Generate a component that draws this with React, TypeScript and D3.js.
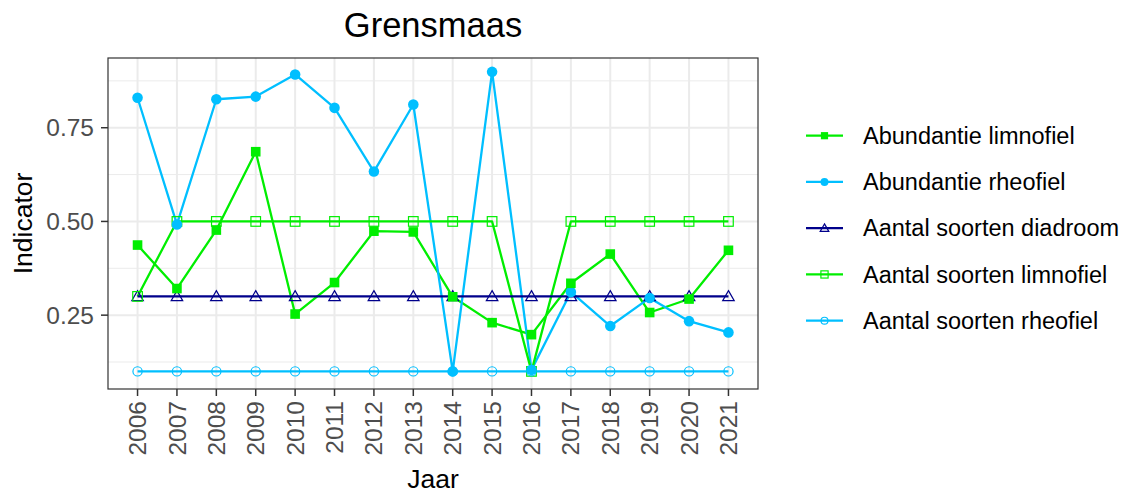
import React, {useRef, useEffect} from "react";
import * as d3 from "d3";

// Chart data
const years = [2006, 2007, 2008, 2009, 2010, 2011, 2012, 2013, 2014, 2015, 2016, 2017, 2018, 2019, 2020, 2021];

const abundantieLimnofiel = [0.437, 0.321, 0.477, 0.686, 0.253, 0.337, 0.474, 0.472, 0.299, 0.230, 0.198, 0.335, 0.413, 0.257, 0.293, 0.423];
const abundantieRheofiel = [0.830, 0.492, 0.826, 0.833, 0.892, 0.803, 0.633, 0.812, 0.100, 0.899, 0.104, 0.312, 0.221, 0.296, 0.234, 0.204];
const aantalDiadroom = [0.3, 0.3, 0.3, 0.3, 0.3, 0.3, 0.3, 0.3, 0.3, 0.3, 0.3, 0.3, 0.3, 0.3, 0.3, 0.3];
const aantalLimnofiel = [0.3, 0.5, 0.5, 0.5, 0.5, 0.5, 0.5, 0.5, 0.5, 0.5, 0.1, 0.5, 0.5, 0.5, 0.5, 0.5];
const aantalRheofiel = [0.1, 0.1, 0.1, 0.1, 0.1, 0.1, 0.1, 0.1, 0.1, 0.1, 0.1, 0.1, 0.1, 0.1, 0.1, 0.1];

const yTicks = [0.25, 0.5, 0.75];
const yMinor = [0.125, 0.375, 0.625, 0.875];

const series = [
  {name: "Abundantie limnofiel", values: abundantieLimnofiel, color: "#00EE00", shape: "square", filled: true},
  {name: "Abundantie rheofiel", values: abundantieRheofiel, color: "#00BFFF", shape: "circle", filled: true},
  {name: "Aantal soorten diadroom", values: aantalDiadroom, color: "#00008B", shape: "triangle", filled: false},
  {name: "Aantal soorten limnofiel", values: aantalLimnofiel, color: "#00EE00", shape: "square", filled: false},
  {name: "Aantal soorten rheofiel", values: aantalRheofiel, color: "#00BFFF", shape: "circle", filled: false},
];

const FONT = "'Liberation Sans', Arial, sans-serif";

function drawShape(g, shape, filled, color, cx, cy, s) {
  if (shape === "square") {
    const h = filled ? s * 0.5 : s * 0.5;
    g.append("rect")
      .attr("x", cx - h).attr("y", cy - h)
      .attr("width", 2 * h).attr("height", 2 * h)
      .attr("fill", filled ? color : "none")
      .attr("stroke", filled ? "none" : color)
      .attr("stroke-width", 1.2);
  } else if (shape === "circle") {
    g.append("circle")
      .attr("cx", cx).attr("cy", cy)
      .attr("r", filled ? s * 0.55 : s * 0.48)
      .attr("fill", filled ? color : "none")
      .attr("stroke", filled ? "none" : color)
      .attr("stroke-width", 1.2);
  } else {
    const w = s * 0.6;
    const h = s * 0.55;
    g.append("path")
      .attr("d", `M${cx},${cy - h * 1.1}L${cx + w},${cy + h * 0.8}L${cx - w},${cy + h * 0.8}Z`)
      .attr("fill", "none")
      .attr("stroke", color)
      .attr("stroke-width", 1.2);
  }
}

export default function App() {
  const svgRef = useRef(null);

  useEffect(() => {
    const svg = d3.select(svgRef.current);
    svg.selectAll("*").remove();

    const panel = {left: 108, right: 758, top: 58, bottom: 389};

    const x = d3.scaleLinear().domain([2005.25, 2021.75]).range([panel.left, panel.right]);
    const y = d3.scaleLinear().domain([0.053, 0.936]).range([panel.bottom, panel.top]);

    // panel background + grid
    svg.append("rect")
      .attr("x", panel.left).attr("y", panel.top)
      .attr("width", panel.right - panel.left).attr("height", panel.bottom - panel.top)
      .attr("fill", "white");

    svg.selectAll(".grid-minor")
      .data(yMinor)
      .join("line")
      .attr("x1", panel.left).attr("x2", panel.right)
      .attr("y1", (d) => y(d)).attr("y2", (d) => y(d))
      .attr("stroke", "#EBEBEB").attr("stroke-width", 1);

    svg.selectAll(".grid-y")
      .data(yTicks)
      .join("line")
      .attr("x1", panel.left).attr("x2", panel.right)
      .attr("y1", (d) => y(d)).attr("y2", (d) => y(d))
      .attr("stroke", "#EBEBEB").attr("stroke-width", 2);

    svg.selectAll(".grid-x")
      .data(years)
      .join("line")
      .attr("x1", (d) => x(d)).attr("x2", (d) => x(d))
      .attr("y1", panel.top).attr("y2", panel.bottom)
      .attr("stroke", "#EBEBEB").attr("stroke-width", 2);

    // lines
    const line = d3.line().x((d) => x(d[0])).y((d) => y(d[1]));
    const lineOrder = [0, 1, 3, 4, 2];
    lineOrder.forEach((i) => {
      const s = series[i];
      svg.append("path")
        .datum(years.map((yr, j) => [yr, s.values[j]]))
        .attr("d", line)
        .attr("fill", "none")
        .attr("stroke", s.color)
        .attr("stroke-width", 2.3)
        .attr("stroke-linejoin", "round");
    });

    // points
    const pointOrder = [2, 3, 4, 1, 0];
    pointOrder.forEach((i) => {
      const s = series[i];
      const g = svg.append("g");
      years.forEach((yr, j) => {
        drawShape(g, s.shape, s.filled, s.color, x(yr), y(s.values[j]), 9.6);
      });
    });

    // panel border
    svg.append("rect")
      .attr("x", panel.left).attr("y", panel.top)
      .attr("width", panel.right - panel.left).attr("height", panel.bottom - panel.top)
      .attr("fill", "none")
      .attr("stroke", "#333333").attr("stroke-width", 1.2);

    // y axis
    const yAxis = svg.append("g");
    yAxis.selectAll("line")
      .data(yTicks)
      .join("line")
      .attr("x1", panel.left - 7).attr("x2", panel.left)
      .attr("y1", (d) => y(d)).attr("y2", (d) => y(d))
      .attr("stroke", "#333333").attr("stroke-width", 1.5);
    yAxis.selectAll("text")
      .data(yTicks)
      .join("text")
      .attr("x", panel.left - 14)
      .attr("y", (d) => y(d))
      .attr("dy", "0.35em")
      .attr("text-anchor", "end")
      .style("fill", "#4D4D4D")
      .style("font-size", "24.5px")
      .style("font-family", FONT)
      .text((d) => d3.format(".2f")(d));

    // x axis
    const xAxis = svg.append("g");
    xAxis.selectAll("line")
      .data(years)
      .join("line")
      .attr("x1", (d) => x(d)).attr("x2", (d) => x(d))
      .attr("y1", panel.bottom).attr("y2", panel.bottom + 7)
      .attr("stroke", "#333333").attr("stroke-width", 1.5);
    xAxis.selectAll("text")
      .data(years)
      .join("text")
      .attr("transform", (d) => `translate(${x(d)},${panel.bottom + 12}) rotate(-90)`)
      .attr("dy", "0.35em")
      .attr("text-anchor", "end")
      .style("fill", "#4D4D4D")
      .style("font-size", "24.5px")
      .style("font-family", FONT)
      .text((d) => String(d));

    // titles
    svg.append("text")
      .attr("x", (panel.left + panel.right) / 2)
      .attr("y", 37)
      .attr("text-anchor", "middle")
      .style("font-size", "34.5px")
      .style("font-family", FONT)
      .style("fill", "black")
      .text("Grensmaas");

    svg.append("text")
      .attr("x", (panel.left + panel.right) / 2)
      .attr("y", 488)
      .attr("text-anchor", "middle")
      .style("font-size", "26.5px")
      .style("font-family", FONT)
      .style("fill", "black")
      .text("Jaar");

    svg.append("text")
      .attr("transform", `translate(32,${(panel.top + panel.bottom) / 2}) rotate(-90)`)
      .attr("text-anchor", "middle")
      .style("font-size", "26.5px")
      .style("font-family", FONT)
      .style("fill", "black")
      .text("Indicator");

    // legend
    const legend = svg.append("g");
    series.forEach((s, i) => {
      const cy = 135.7 + i * 46.25;
      legend.append("line")
        .attr("x1", 806).attr("x2", 843)
        .attr("y1", cy).attr("y2", cy)
        .attr("stroke", s.color).attr("stroke-width", 2.3);
      drawShape(legend, s.shape, s.filled, s.color, 824.5, cy, 7.2);
      legend.append("text")
        .attr("x", 863)
        .attr("y", cy)
        .attr("dy", "0.35em")
        .style("font-size", "23.5px")
        .style("font-family", FONT)
        .style("fill", "black")
        .text(s.name);
    });

    return () => {
      d3.select(svgRef.current).selectAll("*").remove();
    };
  }, []);

  return (
    <svg
      ref={svgRef}
      width={1125}
      height={494}
      style={{position: "absolute", left: 0, top: 0, background: "white"}}
    />
  );
}
